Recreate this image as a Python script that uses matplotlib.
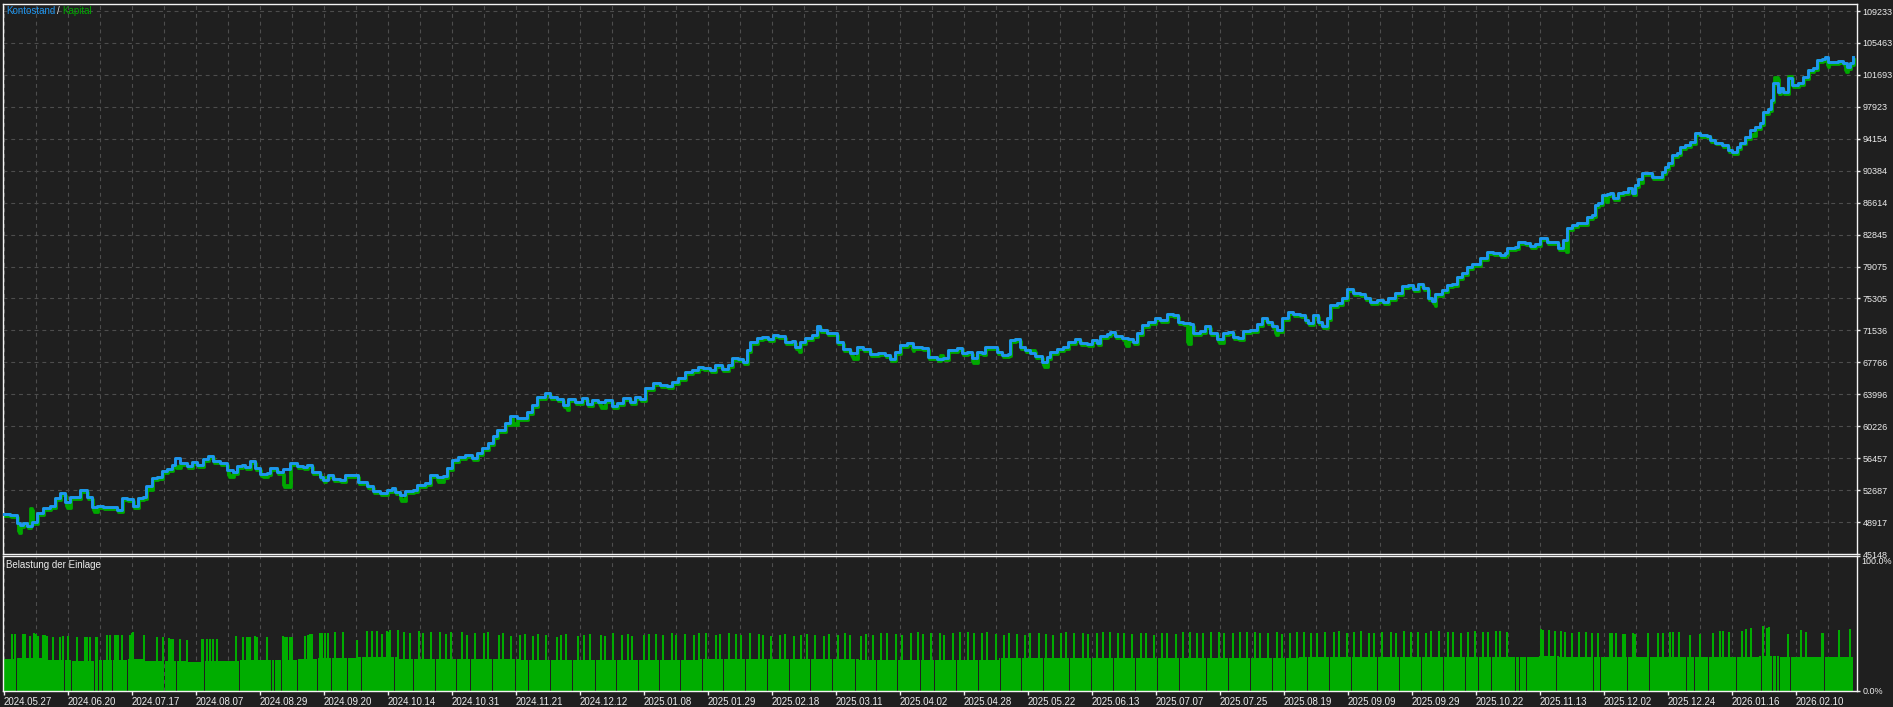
import matplotlib
matplotlib.use("Agg")
import matplotlib.pyplot as plt
import matplotlib.patheffects as pe
import numpy as np

# ---------------- data ----------------
deal_idx = [3, 10, 17, 20, 23, 27, 32, 37, 43, 50, 55, 60, 65, 70, 77, 80, 87, 92, 97, 103,
            110, 117, 122, 127, 133, 138, 143, 146, 152, 157, 162, 167, 172, 175, 180, 187, 192, 197, 203, 208,
            213, 220, 227, 233, 237, 242, 245, 250, 255, 260, 267, 270, 277, 283, 290, 297, 303, 307, 312, 320,
            323, 328, 333, 340, 345, 353, 358, 367, 373, 380, 387, 392, 395, 400, 405, 413, 417, 425, 430, 437,
            443, 447, 452, 458, 465, 472, 477, 482, 488, 493, 497, 505, 510, 517, 522, 527, 532, 537, 545, 550,
            557, 563, 568, 575, 582, 587, 592, 598, 605, 612, 617, 623, 630, 635, 640, 645, 653, 660, 667, 672,
            678, 685, 692, 698, 703, 710, 715, 722, 728, 732, 738, 743, 747, 750, 757, 762, 768, 773, 778, 785,
            792, 795, 800, 805, 812, 817, 820, 827, 832, 837, 843, 850, 857, 863, 870, 878, 885, 890, 895, 900,
            907, 913, 922, 928, 937, 943, 948, 957, 962, 967, 972, 977, 982, 985, 992, 997, 1002, 1008, 1010, 1015,
            1020, 1025, 1030, 1035, 1042, 1047, 1050, 1057, 1063, 1068, 1075, 1080, 1087, 1092, 1097, 1100, 1107, 1110, 1115, 1122,
            1128, 1133, 1137, 1142, 1148, 1155, 1160, 1167, 1173, 1178, 1183, 1190, 1193, 1200, 1205, 1210, 1217, 1223, 1228, 1233,
            1238, 1243, 1250, 1257, 1262, 1267, 1272, 1277, 1282, 1288, 1293, 1300, 1305, 1308, 1313, 1318, 1322, 1327, 1330, 1337,
            1342, 1347, 1353, 1360, 1365, 1370, 1377, 1383, 1388, 1395, 1402, 1408, 1413, 1418, 1423, 1428, 1432, 1435, 1442, 1447,
            1452, 1457, 1462, 1467, 1472, 1477, 1480, 1487, 1493, 1500, 1505, 1507, 1515, 1518, 1525, 1530, 1535, 1540, 1547, 1553,
            1558, 1563, 1567, 1572, 1577, 1582, 1587, 1592, 1595, 1598, 1602, 1607, 1610, 1613, 1618, 1623, 1628, 1632, 1635, 1638,
            1642, 1647, 1652, 1658, 1662, 1665, 1668, 1672, 1677, 1680, 1685, 1690, 1695, 1700, 1707, 1710, 1715, 1722, 1728, 1732,
            1737, 1740, 1745, 1750, 1755, 1760, 1763, 1768, 1771, 1773, 1778, 1780, 1783, 1788, 1792, 1798, 1803, 1808, 1813, 1817,
            1822, 1825, 1828, 1833, 1838, 1843, 1847, 1850, 1853]

balance = [49869, 49751, 48807, 48571, 48807, 48453, 48925, 49987, 50577, 50813, 51758, 52348, 51286, 51876, 51876, 52702, 51876, 50695, 50813, 50695,
           50695, 50341, 51758, 51640, 50813, 51758, 51876, 53174, 54118, 54236, 54944, 55181, 55653, 56479, 55889, 55535, 56007, 55653, 56361, 56715,
           56125, 55889, 55063, 54826, 55535, 55653, 55417, 56125, 55299, 54590, 54708, 55299, 54826, 55181, 55889, 55535, 55417, 55653, 54826, 54236,
           53882, 54472, 54000, 53882, 54472, 54472, 53646, 53174, 52584, 52348, 52702, 52938, 52466, 52112, 52584, 52702, 53292, 53528, 54472, 54236,
           54354, 55299, 56243, 56597, 56833, 56479, 57069, 57659, 58249, 59076, 59784, 60610, 61436, 61200, 61200, 61908, 62734, 63679, 64151, 63679,
           63443, 62734, 63443, 63089, 63561, 62853, 63325, 63089, 63325, 62616, 62971, 63561, 63089, 63679, 63443, 64741, 65331, 65095, 64977, 65449,
           65921, 66629, 66866, 67220, 67102, 66866, 67454, 66984, 67454, 68282, 68164, 67810, 69226, 70170, 70642, 70760, 70524, 70997, 70879, 70170,
           70288, 69580, 70170, 70642, 70997, 72059, 71587, 71233, 71233, 70170, 69344, 68872, 69580, 69344, 68754, 68872, 68636, 68164, 68990, 69816,
           70052, 69580, 69462, 68400, 68164, 68282, 69226, 69462, 68872, 68990, 68282, 68990, 68872, 69580, 69580, 68990, 68636, 68754, 70406, 70524,
           69580, 69226, 68872, 68518, 67810, 68400, 68990, 69344, 69580, 70170, 70524, 70052, 69934, 70406, 70052, 70879, 71115, 71351, 70879, 70642,
           70524, 70170, 71233, 72177, 72531, 73003, 72767, 73475, 73357, 72531, 72413, 72295, 71233, 71469, 72059, 71233, 70524, 71233, 71351, 70760,
           70642, 71469, 71587, 72295, 73003, 72531, 72059, 71587, 73003, 73711, 73475, 73357, 72767, 72413, 73357, 72531, 72059, 73003, 74537, 74774,
           75364, 76426, 75954, 75836, 75364, 74892, 75128, 74892, 75364, 75954, 76780, 76898, 76426, 77016, 76544, 75364, 75010, 75836, 76308, 76898,
           77016, 77842, 78314, 79023, 79377, 79377, 80085, 80793, 80675, 80439, 80675, 81265, 81383, 81973, 81855, 81501, 81737, 82445, 81973, 81973,
           81265, 82209, 83626, 83980, 84216, 84216, 84924, 85160, 86340, 86576, 87521, 87639, 87757, 87166, 87757, 87875, 88347, 87757, 88701, 89409,
           90117, 90117, 89645, 89645, 90235, 90826, 91298, 92242, 92478, 93186, 93422, 93776, 94839, 94603, 94485, 94012, 93660, 93422, 92832, 92596,
           93186, 93660, 94367, 95193, 95547, 96019, 97317, 97671, 98734, 100740, 99678, 100150, 99678, 101330, 100504, 100740, 101448, 102274, 102510, 103454,
           103572, 103808, 103218, 103218, 103336, 103100, 102628, 103100, 103808]

# equity (Kapital) excursions away from balance
equity_idx = [18, 30, 66, 93, 146, 175, 228, 262, 283, 325, 400, 437, 512, 566, 600, 798, 852, 912, 940, 972, 1030, 1043, 1125, 1187, 1218, 1275, 1434, 1565, 1605, 1640, 1750, 1774, 1788, 1827, 1845]
equity_val = [47863, 50577, 50813, 50341, 52938, 55535, 54472, 54472, 53292, 54236, 51640, 53882, 60610, 62380, 62616, 69226, 68400, 69344, 68636, 67928, 69226, 67456, 69934, 70170, 70288, 71233, 74655, 81029, 86930, 89173, 94721, 101448, 101566, 102864, 102274]

date_labels = ["2024.05.27", "2024.06.20", "2024.07.17", "2024.08.07", "2024.08.29", "2024.09.20",
               "2024.10.14", "2024.10.31", "2024.11.21", "2024.12.12", "2025.01.08", "2025.01.29",
               "2025.02.18", "2025.03.11", "2025.04.02", "2025.04.28", "2025.05.22", "2025.06.13",
               "2025.07.07", "2025.07.25", "2025.08.19", "2025.09.09", "2025.09.29", "2025.10.22",
               "2025.11.13", "2025.12.02", "2025.12.24", "2026.01.16", "2026.02.10"]

y_tick_values = [45148, 48917, 52687, 56457, 60226, 63996, 67766, 71536, 75305, 79075,
                 82845, 86614, 90384, 94154, 97923, 101693, 105463, 109233]

# deposit load (Belastung der Einlage), percent
load_base_start = [4, 17, 48, 72, 95, 128, 145, 165, 187, 205, 240, 298, 318, 357, 400, 520, 700, 860, 1000, 1150, 1300, 1500, 1540, 1560, 1700, 1760, 1780]
load_base_pct = [23.5, 24.2, 23.0, 22.5, 23.0, 23.5, 22.5, 22.5, 21.5, 22.5, 23.0, 23.5, 24.7, 25.4, 24.0, 23.2, 23.8, 23.0, 24.2, 24.8, 25.0, 25.0, 26.0, 25.2, 25.5, 26.2, 25.2]
load_spike_idx = [12, 15, 23, 25, 30, 34, 36, 38, 43, 45, 47, 53, 60, 63, 68, 77, 85, 87, 90, 96,
                  97, 107, 110, 115, 117, 118, 122, 130, 132, 133, 144, 157, 163, 169, 171, 173, 180, 187, 202, 203,
                  207, 210, 213, 217, 236, 243, 247, 248, 250, 255, 257, 267, 283, 285, 287, 290, 292, 305, 308, 310,
                  312, 320, 322, 325, 328, 335, 343, 357, 367, 372, 377, 382, 387, 388, 390, 398,
                  404, 410, 419, 423, 431, 440, 446, 451, 462, 467, 475, 484, 488, 499, 503, 511, 520, 525, 533, 538,
                  546, 557, 561, 566, 578, 584, 590, 601, 605, 613, 622, 628, 632, 644, 649, 656, 663, 672, 676, 685,
                  694, 699, 706, 716, 720, 729, 736, 741, 750, 759, 763, 771, 780, 785, 794, 801, 807, 815, 824, 829,
                  838, 845, 850, 861, 866, 873, 881, 887, 896, 902, 911, 918, 923, 931, 940, 944, 953, 960, 968, 974,
                  982, 987, 996, 1004, 1009, 1017, 1025, 1030, 1039, 1046, 1053, 1061, 1066, 1074, 1083, 1088, 1097, 1103, 1110, 1118,
                  1124, 1132, 1141, 1146, 1154, 1162, 1167, 1176, 1183, 1190, 1197, 1203, 1211, 1219, 1224, 1233, 1240, 1247, 1255, 1260,
                  1268, 1277, 1282, 1290, 1297, 1304, 1311, 1317, 1325, 1334, 1339, 1347, 1354, 1361, 1369, 1374, 1382, 1391, 1396, 1404,
                  1411, 1418, 1426, 1431, 1439, 1448, 1453, 1461, 1468, 1475, 1483, 1488, 1496,
                  1500, 1507, 1541, 1543, 1549, 1555, 1561, 1565, 1572, 1579, 1586, 1592, 1598, 1610, 1612, 1616, 1623, 1625, 1633, 1635,
                  1648, 1658, 1663, 1670, 1673, 1679, 1690, 1700, 1713, 1720, 1723, 1729, 1742, 1746, 1751, 1763, 1767, 1769, 1788, 1801,
                  1806, 1822, 1823, 1839, 1850]
load_spike_pct = [42.0, 42.0, 42.0, 42.0, 40.7, 42.7, 42.0, 40.7, 41.5, 41.5, 40.7, 40.2, 40.2, 40.7, 40.7, 39.8, 39.8, 39.8, 39.8, 40.2,
                  40.2, 41.5, 41.5, 41.5, 41.5, 41.5, 41.5, 41.5, 42.7, 43.5, 41.5, 39.8, 39.8, 39.0, 38.5, 38.5, 38.5, 37.8, 38.5, 38.5,
                  38.5, 38.5, 38.5, 38.5, 40.7, 39.8, 39.8, 39.8, 39.8, 40.7, 40.2, 40.2, 40.7, 39.8, 40.2, 39.8, 39.8, 40.7, 41.5, 42.0,
                  42.0, 42.7, 42.7, 42.7, 42.7, 44.0, 44.0, 37.8, 44.7, 44.7, 44.7, 42.2, 44.7, 44.0, 45.2, 45.2,
                  44.0, 43.2, 44.7, 42.7, 43.5, 44.0, 42.2, 43.5, 44.0, 41.5, 42.7, 43.2, 44.0, 41.5, 42.7, 40.7, 41.5, 42.2, 40.7, 42.0,
                  41.5, 40.2, 41.5, 42.0, 40.7, 41.5, 42.2, 41.5, 40.7, 42.7, 41.5, 42.0, 40.7, 41.5, 42.2, 42.0, 41.5, 42.7, 41.5, 42.2,
                  41.5, 42.7, 43.2, 41.5, 42.0, 43.2, 42.2, 41.5, 42.7, 42.0, 41.5, 40.7, 41.5, 42.2, 40.7, 41.5, 42.2, 41.5, 40.7, 42.0,
                  41.5, 42.7, 41.5, 40.7, 42.2, 41.5, 42.7, 43.2, 42.2, 41.5, 42.7, 43.5, 42.2, 42.7, 43.2, 41.5, 42.7, 43.5, 44.0, 43.2,
                  42.7, 43.5, 42.2, 41.5, 42.7, 42.2, 41.5, 42.7, 43.2, 42.2, 41.5, 42.7, 43.5, 42.7, 43.2, 42.2, 42.7, 43.5, 44.0, 43.2,
                  42.7, 42.2, 43.2, 42.7, 41.5, 42.7, 43.2, 42.2, 43.5, 44.0, 43.2, 42.7, 43.5, 44.0, 43.2, 42.7, 44.0, 43.5, 44.0, 43.2,
                  42.7, 43.5, 42.2, 43.2, 44.0, 43.5, 42.7, 43.2, 44.0, 43.5, 44.4, 43.2, 44.0, 44.4, 43.2, 42.7, 43.5, 44.0, 43.2, 44.4,
                  43.5, 44.0, 43.2, 44.4, 44.7, 43.5, 44.0, 43.2, 44.0, 44.4, 43.5, 44.0, 44.4,
                  44.4, 44.0, 45.9, 45.2, 45.2, 44.7, 44.4, 44.0, 43.2, 44.0, 44.0, 43.2, 43.2, 42.7, 43.2, 42.7, 42.2, 42.2, 42.7, 42.2,
                  42.7, 43.2, 42.7, 44.0, 44.0, 44.0, 41.5, 42.2, 43.2, 44.7, 44.7, 44.0, 44.7, 45.7, 46.4, 48.1, 46.4, 47.2, 42.2, 45.2,
                  44.0, 43.2, 43.2, 45.2, 45.7]
load_gap_idx = [17, 48, 65, 72, 95, 99, 103, 113, 128, 145, 165, 177, 187, 188, 205, 240, 257, 272, 275, 282,
                298, 318, 332, 348, 358, 362, 367, 373, 383, 395,
                414, 436, 457, 471, 493, 516, 529, 551, 573, 596, 617, 639, 660, 681, 703, 724, 746, 768, 790, 811,
                833, 856, 877, 898, 921, 935, 957, 979, 1001, 1022, 1044, 1070, 1092, 1114, 1136, 1158, 1180, 1207, 1229, 1251,
                1273, 1286, 1308, 1330, 1352, 1378, 1400, 1422, 1444, 1466, 1479, 1492,
                1516, 1520, 1527, 1550, 1557, 1580, 1594, 1601, 1613, 1628, 1650, 1687, 1695, 1709, 1737, 1762, 1773, 1777, 1780, 1791, 1825]

# ---------------- style ----------------
W, H = 1893, 707
BG = "#1f1f1f"
FG = "#ececec"
GRID = "#4d4d4d"
BLUE = "#1e96f0"
GREEN = "#00a800"
BAR_GREEN = "#00ad00"
FS = 7.0
FSY = 6.5

plt.rcParams["font.family"] = ["Liberation Sans", "DejaVu Sans"]

fig = plt.figure(figsize=(W / 100, H / 100), dpi=100, facecolor=BG)

x_left, x_right = 3, 1857
xw = x_right - x_left
ax = fig.add_axes([x_left / W, 1 - 554 / H, xw / W, (554 - 4) / H])
ax2 = fig.add_axes([x_left / W, 1 - 691 / H, xw / W, (691 - 556) / H])

ystep = (y_tick_values[-1] - y_tick_values[0]) / (len(y_tick_values) - 1)
px_val = ystep / 31.94
ymin = y_tick_values[0]
ymax = ymin + (554 - 4) * px_val

grid_pos = np.arange(4, x_right, 32)
label_pos = np.arange(4, x_right, 64)[:len(date_labels)]

for a in (ax, ax2):
    a.set_facecolor(BG)
    a.set_xlim(x_left, x_right)
    for s in a.spines.values():
        s.set_color("#f4f4f4")
        s.set_linewidth(1.0)
    for gx in grid_pos:
        a.axvline(gx, color=GRID, lw=0.8, ls=(0, (3.5, 3.5)), zorder=0)

# main panel
ax.set_ylim(ymin, ymax)
for gy in y_tick_values:
    ax.axhline(gy, color=GRID, lw=0.8, ls=(0, (3.5, 3.5)), zorder=0)

bx = np.array(deal_idx, dtype=float)
by = np.array(balance, dtype=float)
ex = np.array(sorted(set(deal_idx) | set(equity_idx)), dtype=float)
ey = np.interp(ex, bx, by)
for i, v in zip(equity_idx, equity_val):
    ey[np.where(ex == i)[0][0]] = v

ax.plot(ex, ey, color=GREEN, lw=2.0, drawstyle="steps-post", zorder=2,
        path_effects=[pe.Stroke(offset=(0.6, -1.1), linewidth=2.0, foreground=GREEN), pe.Normal()])
ax.plot(bx, by, color=BLUE, lw=2.1, drawstyle="steps-post", zorder=3)

ax.yaxis.tick_right()
ax.set_yticks(y_tick_values)
ax.set_yticklabels([str(v) for v in y_tick_values])
ax.tick_params(axis="y", colors=FG, labelcolor=FG, length=2.5, width=1, pad=1.5, labelsize=FSY)
ax.set_xticks([])

ty = 1 - (11 - 4) / 550
ax.text((6 - x_left) / xw, ty, "Kontostand", color=BLUE, fontsize=FS, transform=ax.transAxes, va="center", ha="left")
ax.text((57 - x_left) / xw, ty, "/", color=FG, fontsize=FS, transform=ax.transAxes, va="center", ha="left")
ax.text((62 - x_left) / xw, ty, "Kapital", color=GREEN, fontsize=FS, transform=ax.transAxes, va="center", ha="left")

# lower panel: deposit load
lx = np.arange(4, 1854)
load = np.zeros(len(lx))
starts = list(load_base_start) + [1854]
for s, e, p in zip(starts[:-1], starts[1:], load_base_pct):
    load[(lx >= s) & (lx < e)] = p
for i in load_gap_idx:
    load[lx == i] = 0
ax2.bar(lx, load, width=1.0, color=BAR_GREEN, linewidth=0, zorder=2)
ax2.bar(load_spike_idx, load_spike_pct, width=1.8, color=BAR_GREEN, linewidth=0, zorder=2)
ax2.set_ylim(0, 100)

ax2.yaxis.tick_right()
ax2.set_yticks([0, 100])
ax2.set_yticklabels(["0.0%", ""])
ax2.tick_params(axis="y", colors=FG, labelcolor=FG, length=2.5, width=1, pad=1.5, labelsize=FSY)
ax2.text(1.0 + 4 / xw, 1 - 6 / 135, "100.0%", color=FG, fontsize=FSY,
         transform=ax2.transAxes, va="center", ha="left")
ax2.text((6 - x_left) / xw, 1 - 9 / 135, "Belastung der Einlage", color=FG, fontsize=FS,
         transform=ax2.transAxes, va="center", ha="left")

ax2.set_xticks(label_pos)
ax2.set_xticklabels(date_labels, ha="left")
ax2.tick_params(axis="x", colors=FG, labelcolor=FG, length=3, width=1, pad=1, labelsize=FS)

fig.savefig("out.png", dpi=100, facecolor=BG)
